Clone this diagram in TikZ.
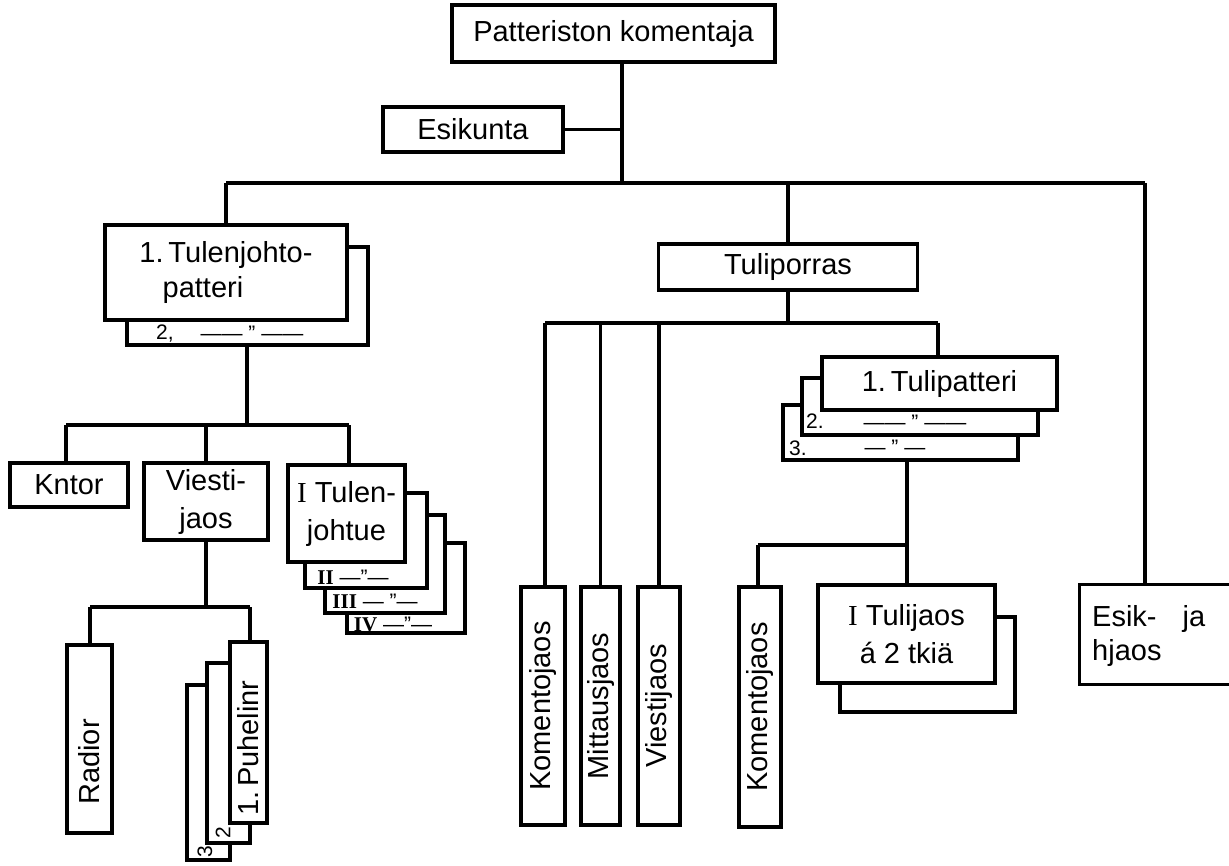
\documentclass[tikz,border=0pt]{standalone}
\usepackage{fontspec}
\setmainfont{Liberation Sans}
\newfontfamily\serifI{Liberation Serif}
\tikzset{
  box/.style={draw, line width=3.2pt, fill=white, inner sep=0pt, align=center, font=\fontsize{29}{38}\selectfont},
  wire/.style={line width=3.2pt},
  small/.style={inner sep=0pt, font=\fontsize{21}{22}\selectfont},
  vtext/.style={inner sep=0pt, rotate=90, font=\fontsize{29}{34}\selectfont},
}
\begin{document}
\begin{tikzpicture}[x=1pt,y=-1pt]
\useasboundingbox (0,0) rectangle (1229,865);
% top
\node[box, minimum width=323, minimum height=57] (pk) at (613.5,33.5) {Patteriston komentaja};
\node[box, minimum width=180, minimum height=45] (esi) at (473,129.5) {Esikunta};
\coordinate (bt) at (622,183);
\draw[wire] (pk.south -| bt) -- (bt);
\draw[wire] (esi.east) -- (esi.east -| bt);
\coordinate (bl) at (226,183);
\coordinate (br) at (1145,183);
\draw[wire] (bl) -- (br);

% left branch: tulenjohtopatteri
\node[box, minimum width=241, minimum height=98] (tj2) at (247.5,296) {};
\node[small, anchor=west] (tj2a) at (156,334) {2,};
\node[small] (tj2b) at (252,333) {—— ” ——};
\node[box, minimum width=242, minimum height=95, align=left] (tj1) at (226,272.5) {1.\,Tulenjohto-\\[-3pt]\hspace{0.8em}patteri};
\draw[wire] (bl) -- (tj1.north);

% Tuliporras
\node[box, minimum width=259, minimum height=46] (tp) at (788,267) {Tuliporras};
\draw[wire] (tp.north |- bl) -- (tp.north);

% Esik- ja hjaos
\node[box, minimum width=180, minimum height=100, anchor=north west] (eh) at (1078,583) {};
\node[inner sep=0pt, anchor=west, align=left, font=\fontsize{29}{34}\selectfont] (eht) at (1092,636) {Esik-\hspace{0.9em}ja\\hjaos};
\coordinate (ehn) at (1145,583);
\draw[wire] (br) -- (ehn);

% under Tuliporras
\coordinate (b2) at (788,323);
\draw[wire] (tp.south) -- (b2);
\node[box, rotate=90, minimum width=238, minimum height=44] (kj1) at (543,706) {Komentojaos};
\node[box, rotate=90, minimum width=238, minimum height=39] (mj) at (600.5,706) {Mittausjaos};
\node[box, rotate=90, minimum width=238, minimum height=42] (vj) at (659,706) {Viestijaos};

\node[box, minimum width=235, minimum height=55] (tl3) at (900.5,432.5) {};
\node[small, anchor=west] (tl3a) at (789,448) {3.};
\node[small] (tl3b) at (895,447) {— ” —};
\node[box, minimum width=236, minimum height=57] (tl2) at (920,406.5) {};
\node[small, anchor=west] (tl2a) at (806,421) {2.};
\node[small] (tl2b) at (915,422) {—— ” ——};
\node[box, minimum width=235, minimum height=53] (tl1) at (939.5,383.5) {1.\,Tulipatteri};

\coordinate (b2l) at (545,323);
\coordinate (b2r) at (938,323);
\draw[wire] (b2l) -- (b2r);
\draw[wire] (b2l) -- (kj1.east -| b2l);
\draw[wire] (mj.east |- b2l) -- (mj.east);
\draw[wire] (vj.east |- b2l) -- (vj.east);
\draw[wire] (b2r) -- (tl1.north -| b2r);

\coordinate (b3r) at (907,545);
\coordinate (b3l) at (758,545);
\draw[wire] (tl3.south -| b3r) -- (b3r);
\draw[wire] (b3l) -- (b3r);
\node[box, rotate=90, minimum width=240, minimum height=42] (kj2) at (760,707) {Komentojaos};
\draw[wire] (b3l) -- (kj2.east -| b3l);
\node[box, minimum width=175, minimum height=95] (tub) at (927.5,664.5) {};
\node[box, minimum width=177, minimum height=98] (tu) at (906.5,634) {{\serifI I} Tulijaos\\á 2 tkiä};
\draw[wire] (b3r) -- (tu.north -| b3r);

% under tulenjohtopatteri
\coordinate (b4) at (247,425);
\draw[wire] (tj2.south -| b4) -- (b4);
\coordinate (b4l) at (66,425);
\coordinate (b4r) at (349,425);
\draw[wire] (b4l) -- (b4r);
\node[box, minimum width=118, minimum height=44] (kn) at (69,485) {Kntor};
\draw[wire] (b4l) -- (kn.north -| b4l);
\node[box, minimum width=124, minimum height=77] (vi) at (206,501.5) {Viesti-\\jaos};
\draw[wire] (vi.north |- b4l) -- (vi.north);

\node[box, minimum width=118, minimum height=90] (tu4) at (406,588) {};
\node[small] (tu4a) at (393,624) {{\serifI\bfseries IV} —”—};
\node[box, minimum width=120, minimum height=98] (tu3) at (385,564) {};
\node[small] (tu3a) at (375,601) {{\serifI\bfseries III} — ”—};
\node[box, minimum width=122, minimum height=95] (tu2) at (366,540.5) {};
\node[small] (tu2a) at (353,577) {{\serifI\bfseries II} —”—};
\node[box, minimum width=117, minimum height=97] (tu1) at (346.5,513.5) {{\serifI I} Tulen-\\johtue};
\draw[wire] (b4r) -- (tu1.north -| b4r);

% under Viestijaos
\coordinate (b5) at (206,607);
\draw[wire] (vi.south) -- (b5);
\coordinate (b5l) at (90,607);
\coordinate (b5r) at (250,607);
\draw[wire] (b5l) -- (b5r);
\node[box, minimum width=45, minimum height=188] (ra) at (89.5,739) {};
\node[vtext] (rat) at (89.5,762) {Radior};
\draw[wire] (b5l) -- (ra.north -| b5l);

\node[box, minimum width=43, minimum height=175] (ph3) at (208.5,772.5) {};
\node[small, rotate=90] (ph3a) at (205,852) {3};
\node[box, minimum width=43, minimum height=180] (ph2) at (228.5,753) {};
\node[small, rotate=90] (ph2a) at (223,833) {2};
\node[box, minimum width=37, minimum height=181] (ph1) at (248.5,732.5) {};
\node[vtext] (ph1t) at (248.5,748) {1.\,Puhelinr};
\draw[wire] (b5r) -- (ph1.north -| b5r);
\end{tikzpicture}
\end{document}
